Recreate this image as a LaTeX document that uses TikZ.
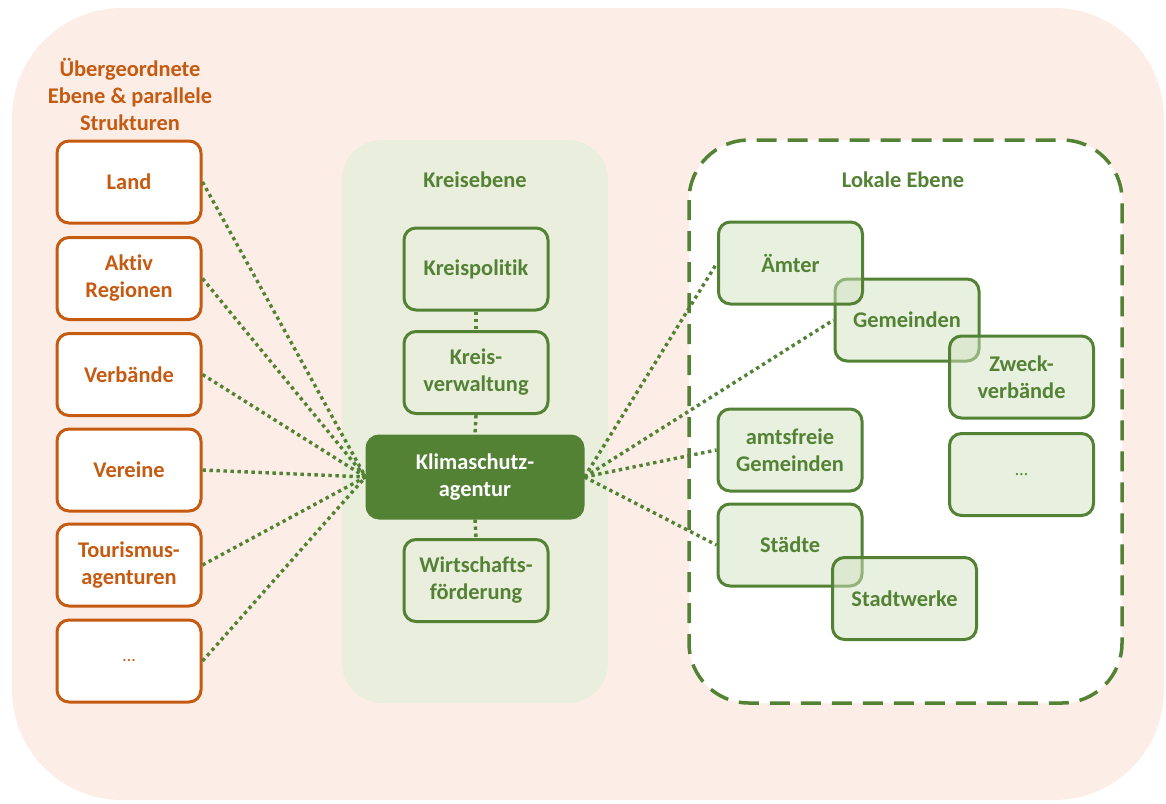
\documentclass[tikz,border=0pt]{standalone}
\usepackage{fontspec}
\setmainfont{Carlito}[Ligatures=NoCommon]
\definecolor{peach}{RGB}{252,238,230}
\definecolor{panelgreen}{RGB}{233,238,221}
\definecolor{orng}{RGB}{197,90,17}
\definecolor{dgreen}{RGB}{84,130,53}
\definecolor{boxfill}{RGB}{210,226,192}
\begin{document}
\begin{tikzpicture}[x=1pt,y=-1pt,
  font=\bfseries\fontsize{22.4}{27}\selectfont,
  orangebox/.style={draw=orng, line width=3pt, fill=white, rounded corners=12pt,
    minimum width=144pt, minimum height=82pt, text=orng, align=center, inner sep=0pt},
  greenbox/.style={draw=dgreen, line width=3pt, rounded corners=12pt,
    minimum width=144pt, minimum height=82pt, text=dgreen, align=center, inner sep=0pt},
  localbox/.style={greenbox, fill=boxfill, fill opacity=0.5, text opacity=1, draw opacity=1},
  dotline/.style={draw=dgreen, line width=3.4pt, line cap=butt, dash pattern=on 3.4pt off 3.6pt},
  heading/.style={align=center, inner sep=0pt}]

\useasboundingbox (0,0) rectangle (1166,803);

% backgrounds
\fill[peach, rounded corners=110pt] (12,8) rectangle (1164,800);
\fill[panelgreen, rounded corners=40pt] (342,140) rectangle (608,703);
\draw[dgreen, fill=white, line width=3.5pt, dash pattern=on 20pt off 11pt, rounded corners=60pt]
  (689,140) rectangle (1122,703);

% headings
\node[heading, text=orng] (tleft) at (130,94) {Übergeordnete\\Ebene \& parallele\\Strukturen};
\node[heading, text=dgreen] (tmid) at (475,180) {Kreisebene};
\node[heading, text=dgreen] (tright) at (903,180) {Lokale Ebene};

% upper level and parallel structures
\node[orangebox] (land) at (129,182) {Land};
\node[orangebox] (aktiv) at (129,278.5) {Aktiv\\Regionen};
\node[orangebox] (verb) at (129,374.5) {Verbände};
\node[orangebox] (verein) at (129,470) {Vereine};
\node[orangebox] (tour) at (129,565) {Tourismus-\\agenturen};
\node[orangebox, font=\fontsize{18}{20}\selectfont] (lmore) at (129,661) {…};

% district level
\node[greenbox] (kpol) at (476,269) {Kreispolitik};
\node[greenbox] (kverw) at (476,372.5) {Kreis-\\verwaltung};
\node[greenbox, fill=dgreen, draw=dgreen, text=white, minimum width=216pt] (klima) at (475,477) {Klimaschutz-\\agentur};
\node[greenbox] (wifoe) at (476,580.5) {Wirtschafts-\\förderung};

% local level
\node[localbox] (gem) at (907,320) {Gemeinden};
\node[localbox] (aemter) at (790.5,263) {Ämter};
\node[localbox] (zweck) at (1021.5,377) {Zweck-\\verbände};
\node[localbox] (afrei) at (790,450) {amtsfreie\\Gemeinden};
\node[localbox, font=\fontsize{18}{20}\selectfont] (rmore) at (1021.5,474.5) {…};
\node[localbox] (staedte) at (790,545) {Städte};
\node[localbox] (swerke) at (904.5,598.5) {Stadtwerke};

% vertical links in the district column
\draw[dotline] (kpol.south) -- (kverw.north);
\draw[dotline] (kverw.south) -- (klima.north);
\draw[dotline] (klima.south) -- (wifoe.north);

% links to the left column
\foreach \n in {land,aktiv,verb,verein,tour,lmore}
  \draw[dotline] (\n.east) -- (klima.west);

% links to the local level
\foreach \n in {aemter,gem,afrei,staedte}
  \draw[dotline] (klima.east) -- (\n.west);
\end{tikzpicture}
\end{document}
